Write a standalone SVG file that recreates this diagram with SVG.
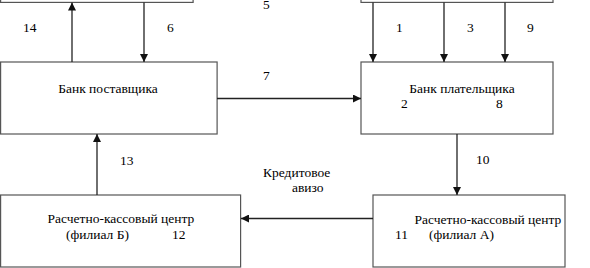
<svg xmlns="http://www.w3.org/2000/svg" width="590" height="268" viewBox="0 0 590 268">
<style>
.box{fill:#fff;stroke:#555;stroke-width:1.2}
.ln{stroke:#222;stroke-width:1.3;fill:none}
</style>
<defs>
<marker id="ah" viewBox="0 0 10 10" refX="10" refY="5" markerWidth="8" markerHeight="8" markerUnits="userSpaceOnUse" orient="auto">
<path d="M0,0 L10,5 L0,10 Z" fill="#111"/>
</marker>
</defs>
<rect width="590" height="268" fill="#fff"/>
<g font-family="Liberation Serif, Times New Roman, serif" font-size="13.5" fill="#000">
<g id="top-left"><rect class="box" x="0.6" y="-50" width="192.5" height="52.4"/></g>
<g id="top-right"><rect class="box" x="361" y="-50" width="192" height="52.4"/></g>
<g id="bank-supplier"><rect class="box" x="0.6" y="62" width="216.5" height="72"/>
<text x="108" y="93" text-anchor="middle">Банк поставщика</text></g>
<g id="bank-payer"><rect class="box" x="361" y="62" width="192" height="72"/>
<text x="462" y="93" text-anchor="middle">Банк плательщика</text>
<text x="401" y="108">2</text>
<text x="496" y="108">8</text></g>
<g id="rkc-b"><rect class="box" x="0.6" y="195" width="240" height="72"/>
<text x="121" y="223" text-anchor="middle">Расчетно-кассовый центр</text>
<text x="66" y="239">(филиал Б)</text>
<text x="172" y="239">12</text></g>
<g id="rkc-a"><rect class="box" x="373" y="195" width="192" height="72"/>
<text x="488" y="224" text-anchor="middle">Расчетно-кассовый центр</text>
<text x="395" y="239">11</text>
<text x="429" y="239">(филиал А)</text></g>
<g id="connectors">
<line class="ln" x1="72" y1="62" x2="72" y2="2.5" marker-end="url(#ah)"/>
<line class="ln" x1="144" y1="2.5" x2="144" y2="62" marker-end="url(#ah)"/>
<line class="ln" x1="373" y1="2.5" x2="373" y2="62" marker-end="url(#ah)"/>
<line class="ln" x1="444" y1="2.5" x2="444" y2="62" marker-end="url(#ah)"/>
<line class="ln" x1="505" y1="2.5" x2="505" y2="62" marker-end="url(#ah)"/>
<line class="ln" x1="217" y1="98.5" x2="361" y2="98.5" marker-end="url(#ah)"/>
<line class="ln" x1="97" y1="195" x2="97" y2="134" marker-end="url(#ah)"/>
<line class="ln" x1="457" y1="134" x2="457" y2="195" marker-end="url(#ah)"/>
<line class="ln" x1="373" y1="218.5" x2="241" y2="218.5" marker-end="url(#ah)"/>
</g>
<g id="labels">
<text x="23" y="32">14</text>
<text x="167" y="32">6</text>
<text x="263" y="9">5</text>
<text x="396" y="32">1</text>
<text x="467" y="32">3</text>
<text x="527" y="32">9</text>
<text x="263" y="80">7</text>
<text x="120" y="165">13</text>
<text x="476" y="164">10</text>
<text x="263" y="177">Кредитовое</text>
<text x="292" y="192">авизо</text>
</g>
</g>
</svg>
